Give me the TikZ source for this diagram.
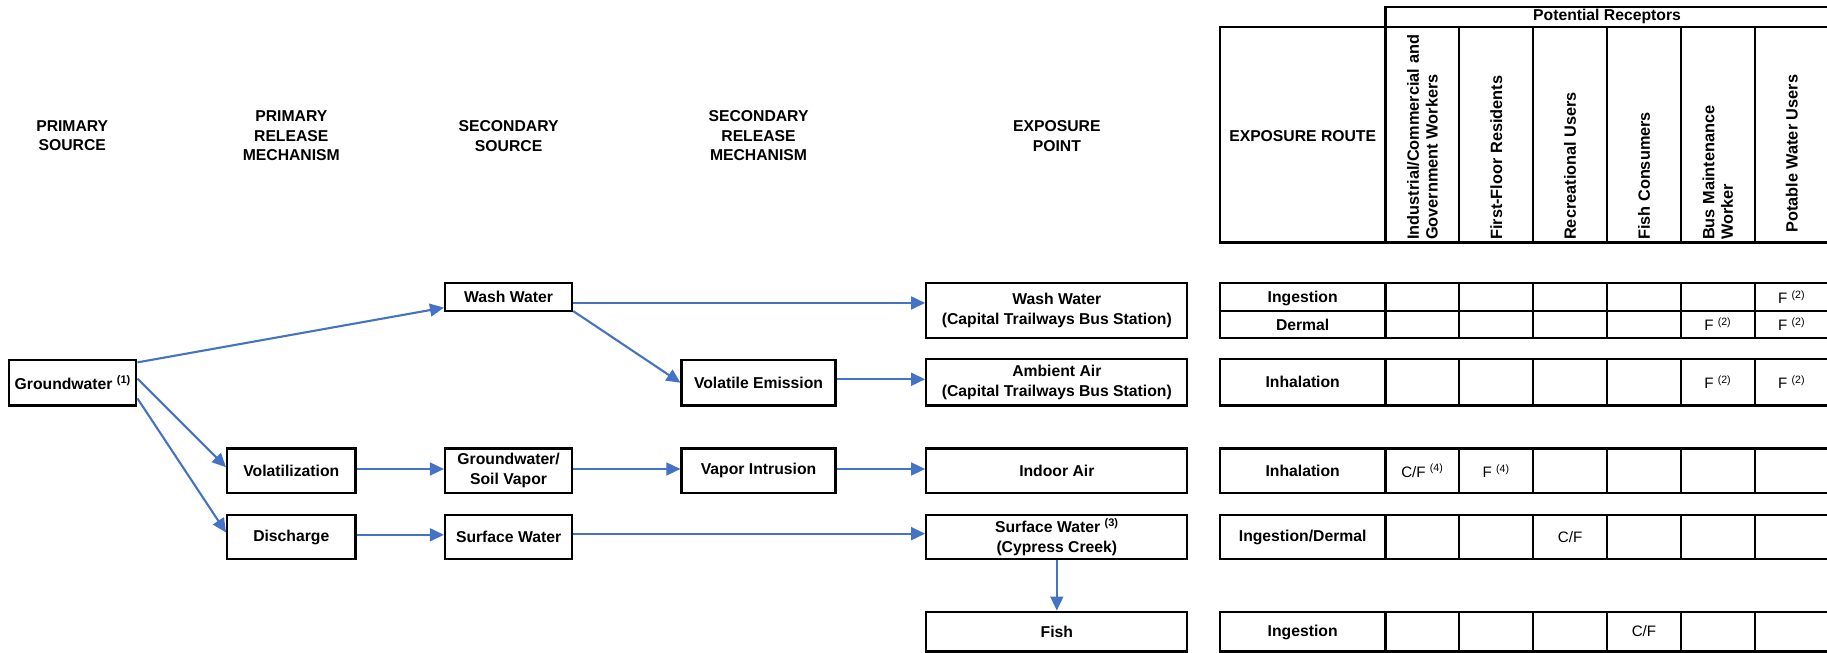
\documentclass[tikz,border=0pt]{standalone}
\usepackage{fontspec}
\setmainfont{Liberation Sans}
\usetikzlibrary{arrows.meta, positioning, calc}
\definecolor{flowblue}{RGB}{68,114,196}
\newcommand{\fnref}[1]{\textsuperscript{(#1)}}

\begin{document}
\begin{tikzpicture}[x=1pt, y=-1pt,
  font=\fontsize{13.5}{17}\selectfont\bfseries,
  box/.style={draw, line width=2pt, inner sep=2pt, align=center},
  srcbox/.style={box, minimum width=109pt},
  relbox/.style={box, minimum width=110pt},
  mechbox/.style={box, minimum width=132pt},
  ptbox/.style={box, minimum width=224pt},
  flow/.style={-{Triangle[length=12pt, width=11pt]}, line width=1.8pt, flowblue},
  hdr/.style={align=center},
  tbl/.style={line width=2pt},
  rot/.style={rotate=90, anchor=west, inner sep=0pt, align=left, font=\fontsize{14}{16}\selectfont\bfseries},
  cell/.style={font=\fontsize{13}{15}\selectfont}]
  \useasboundingbox (0,0) rectangle (1568,560);
  \clip (0,0) rectangle (1568,560);

  % column headings
  \node[hdr] (hps) at (62,116.5) {PRIMARY\\SOURCE};
  \node[hdr] (hprm) at (250,116.5) {PRIMARY\\RELEASE\\MECHANISM};
  \node[hdr] (hss) at (436.5,116.5) {SECONDARY\\SOURCE};
  \node[hdr] (hsrm) at (651,116.5) {SECONDARY\\RELEASE\\MECHANISM};
  \node[hdr] (hep) at (907,116.5) {EXPOSURE\\POINT};

  % sources and mechanisms
  \node[srcbox, minimum height=39pt] (gw) at (62.5,328.5) {Groundwater \fnref{1}};
  \node[srcbox, minimum height=24pt] (ww) at (436.5,255) {Wash Water};
  \node[relbox, minimum height=38pt] (vol) at (250,404) {Volatilization};
  \node[srcbox, minimum height=38pt] (gsv) at (436.5,404) {Groundwater/\\Soil Vapor};
  \node[relbox, minimum height=38pt] (dis) at (250,461) {Discharge};
  \node[srcbox, minimum height=38pt] (sw) at (436.5,461) {Surface Water};
  \node[mechbox, minimum height=39pt] (vem) at (651,328.5) {Volatile Emission};
  \node[mechbox, minimum height=38pt] (vin) at (651,404) {Vapor Intrusion};

  % exposure points
  \node[ptbox, minimum height=47pt] (epww) at (907,266.5) {Wash Water\\(Capital Trailways Bus Station)};
  \node[ptbox, minimum height=40pt] (epaa) at (907,328) {Ambient Air\\(Capital Trailways Bus Station)};
  \node[ptbox, minimum height=38pt] (epia) at (907,404) {Indoor Air};
  \node[ptbox, minimum height=38pt] (epsw) at (907,461) {Surface Water \fnref{3}\\(Cypress Creek)};
  \node[ptbox, minimum height=34pt] (fish) at (907,542) {Fish};

  % flows
  \draw[flow] ([yshift=-3pt]gw.north east) -- ([yshift=4pt]ww.south west);
  \draw[flow] ([yshift=3.5pt]gw.east) -- ([yshift=3pt]vol.west);
  \draw[flow] ([yshift=7pt]gw.south east) -- ([yshift=4pt]dis.west);
  \draw[flow] ([yshift=-5pt]ww.east) -- ([yshift=6.5pt]epww.west);
  \draw[flow] ([yshift=1pt]ww.south east) -- (vem.west);
  \draw[flow] ([yshift=3pt]vem.east) -- ([yshift=2.5pt]epaa.west);
  \draw[flow] ([yshift=1.5pt]vol.east) -- ([yshift=1.5pt]gsv.west);
  \draw[flow] ([yshift=1.5pt]gsv.east) -- ([yshift=1.5pt]vin.west);
  \draw[flow] ([yshift=1.5pt]vin.east) -- ([yshift=1.5pt]epia.west);
  \draw[flow] ([yshift=2pt]dis.east) -- ([yshift=2pt]sw.west);
  \draw[flow] ([yshift=3pt]sw.east) -- ([yshift=3pt]epsw.west);
  \draw[flow] (epsw.south) -- (fish.north);

  % receptor table heading
  \draw[tbl] (1189,6) rectangle (1569.4,23);
  \node (hpr) at (1379.2,14.5) {Potential Receptors};
  \draw[tbl] (1047,23) rectangle (1569.4,208);
  \foreach \x in {1189,1252.4,1315.8,1379.2,1442.6,1506}
    \draw[tbl] (\x,23) -- (\x,208);
  \node (hroute) at (1118,117) {EXPOSURE ROUTE};
  \node[rot] (rind) at (1220.7,206) {Industrial/Commercial and\\Government Workers};
  \node[rot] (rres) at (1284.1,206) {First-Floor Residents};
  \node[rot] (rrec) at (1347.5,206) {Recreational Users};
  \node[rot] (rfsh) at (1410.9,206) {Fish Consumers};
  \node[rot] (rbus) at (1474.3,206) {Bus Maintenance\\Worker};
  \node[rot] (rpot) at (1537.7,200) {Potable Water Users};

  % receptor table rows
  \foreach \top/\bot in {243/290, 308/348, 385/423, 442/480, 525/559} {
    \draw[tbl] (1047,\top) rectangle (1569.4,\bot);
    \foreach \x in {1189,1252.4,1315.8,1379.2,1442.6,1506}
      \draw[tbl] (\x,\top) -- (\x,\bot);
  }
  \draw[tbl] (1047,267) -- (1569.4,267);

  \node (ring) at (1118,256) {Ingestion};
  \node (rder) at (1118,278.5) {Dermal};
  \node (rinha) at (1118,328) {Inhalation};
  \node (rinhb) at (1118,404) {Inhalation};
  \node (ringd) at (1118,461) {Ingestion/Dermal};
  \node (ringf) at (1118,543) {Ingestion};

  \node[cell] (c16) at (1537.7,255) {F \fnref{2}};
  \node[cell] (c25) at (1474.3,278.5) {F \fnref{2}};
  \node[cell] (c26) at (1537.7,278.5) {F \fnref{2}};
  \node[cell] (c35) at (1474.3,328) {F \fnref{2}};
  \node[cell] (c36) at (1537.7,328) {F \fnref{2}};
  \node[cell] (c41) at (1220.7,404) {C/F \fnref{4}};
  \node[cell] (c42) at (1284.1,404) {F \fnref{4}};
  \node[cell] (c53) at (1347.5,461) {C/F};
  \node[cell] (c64) at (1410.9,542) {C/F};
\end{tikzpicture}
\end{document}
